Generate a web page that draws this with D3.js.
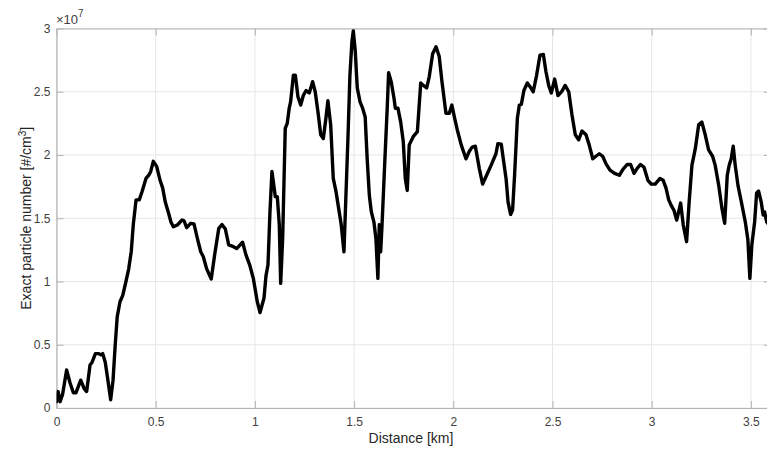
<!DOCTYPE html>
<html>
<head>
<meta charset="utf-8">
<script src="https://cdn.jsdelivr.net/npm/d3@7"></script>
<style>
html,body{margin:0;padding:0;background:#fff;}
svg{display:block;font-family:"Liberation Sans",Arial,Helvetica,sans-serif;}
</style>
</head>
<body>
<svg id="chart" width="767" height="452"></svg>
<script>
// Distance along route [km]
const distanceKm = [
0.000,0.008,0.018,0.031,0.051,0.068,0.085,0.098,0.122,0.139,0.152,0.169,0.179,0.196,0.213,0.223,0.233,0.246,0.260,0.273,
0.285,0.296,0.306,0.320,0.334,0.350,0.364,0.377,0.387,0.401,0.417,0.431,0.451,0.465,0.475,0.488,0.505,0.522,0.535,0.548,
0.565,0.577,0.589,0.609,0.633,0.643,0.656,0.676,0.693,0.710,0.727,0.740,0.757,0.780,0.797,0.818,0.834,0.851,0.868,0.885,
0.908,0.938,0.955,0.975,0.992,1.012,1.026,1.046,1.056,1.066,1.076,1.086,1.103,1.113,1.123,1.130,1.140,1.153,1.163,1.173,
1.180,1.194,1.204,1.217,1.231,1.244,1.258,1.274,1.291,1.304,1.318,1.332,1.345,1.358,1.368,1.382,1.395,1.409,1.422,1.435,
1.449,1.456,1.469,1.479,1.489,1.496,1.506,1.516,1.530,1.543,1.556,1.566,1.577,1.587,1.600,1.610,1.620,1.627,1.634,1.641,
1.654,1.667,1.674,1.687,1.701,1.708,1.721,1.735,1.748,1.758,1.768,1.778,1.798,1.819,1.836,1.849,1.866,1.879,1.896,1.913,
1.929,1.943,1.963,1.980,1.993,2.007,2.020,2.040,2.064,2.081,2.094,2.111,2.131,2.148,2.168,2.191,2.215,2.225,2.242,2.252,
2.266,2.276,2.289,2.299,2.309,2.323,2.333,2.343,2.356,2.373,2.387,2.403,2.420,2.437,2.454,2.467,2.481,2.494,2.511,2.528,
2.548,2.564,2.582,2.598,2.615,2.632,2.649,2.669,2.685,2.703,2.719,2.736,2.753,2.770,2.790,2.813,2.837,2.857,2.877,2.894,
2.911,2.927,2.944,2.961,2.981,2.998,3.018,3.042,3.058,3.072,3.086,3.099,3.112,3.126,3.136,3.146,3.159,3.176,3.189,3.203,
3.220,3.237,3.253,3.270,3.287,3.307,3.320,3.338,3.354,3.368,3.381,3.391,3.401,3.411,3.421,3.435,3.452,3.472,3.485,3.495,
3.505,3.519,3.529,3.539,3.552,3.562,3.569,3.580,3.590
];
// Exact particle number, in units of 1e7 #/cm^3
const particleE7 = [
0.05,0.13,0.05,0.11,0.30,0.20,0.12,0.12,0.22,0.155,0.13,0.34,0.36,0.43,0.43,0.42,0.43,0.36,0.21,0.065,
0.22,0.50,0.72,0.84,0.89,1.00,1.10,1.24,1.45,1.645,1.645,1.71,1.815,1.84,1.87,1.95,1.91,1.80,1.74,1.63,
1.54,1.47,1.433,1.447,1.486,1.48,1.425,1.46,1.455,1.34,1.235,1.196,1.10,1.02,1.21,1.42,1.45,1.415,1.29,1.28,
1.26,1.31,1.21,1.125,1.025,0.84,0.755,0.87,1.046,1.13,1.55,1.87,1.67,1.67,1.45,0.985,1.34,2.21,2.25,2.37,
2.42,2.63,2.63,2.46,2.395,2.47,2.51,2.49,2.58,2.50,2.34,2.16,2.13,2.29,2.43,2.24,1.815,1.71,1.58,1.45,
1.235,1.55,2.13,2.63,2.895,2.98,2.82,2.53,2.42,2.37,2.30,1.97,1.68,1.55,1.47,1.34,1.025,1.45,1.235,1.45,
1.92,2.37,2.65,2.58,2.45,2.37,2.37,2.26,2.105,1.815,1.72,2.08,2.145,2.185,2.57,2.55,2.53,2.62,2.80,2.855,
2.78,2.58,2.33,2.33,2.395,2.29,2.20,2.08,1.97,2.03,2.06,2.07,1.895,1.77,1.84,1.92,2.01,2.09,2.085,1.97,
1.815,1.63,1.53,1.565,1.84,2.29,2.395,2.40,2.51,2.57,2.54,2.50,2.63,2.79,2.795,2.66,2.55,2.49,2.60,2.47,
2.505,2.55,2.50,2.32,2.16,2.12,2.19,2.16,2.08,1.97,1.99,2.01,1.99,1.93,1.88,1.855,1.84,1.89,1.925,1.925,
1.855,1.895,1.925,1.905,1.80,1.77,1.77,1.815,1.80,1.74,1.645,1.60,1.565,1.486,1.55,1.62,1.45,1.315,1.63,1.92,
2.05,2.24,2.26,2.16,2.04,1.99,1.92,1.76,1.58,1.46,1.84,1.92,1.97,2.07,1.92,1.76,1.63,1.47,1.33,1.025,
1.29,1.47,1.70,1.715,1.63,1.525,1.55,1.47,1.45
];
const xTicks = [0, 0.5, 1, 1.5, 2, 2.5, 3, 3.5];
const yTicks = [0, 0.5, 1, 1.5, 2, 2.5, 3];
const xLabel = "Distance [km]";
const yLabelMain = "Exact particle number [#/cm";
const exponentLabel = "7";

const svg = d3.select("#chart");
const pLeft = 56.5, pRight = 770.7, pTop = 28.5, pBottom = 408;
const x = d3.scaleLinear().domain([0, 3.6]).range([pLeft, pRight]);
const y = d3.scaleLinear().domain([0, 3]).range([pBottom, pTop]);

const gridColor = "#e6e6e6", axisColor = "#b4b4b4", textColor = "#404040";

// grid
svg.append("g").selectAll("line").data(xTicks).join("line")
  .attr("x1", d => x(d)).attr("x2", d => x(d)).attr("y1", pTop).attr("y2", pBottom)
  .attr("stroke", gridColor).attr("stroke-width", 1);
svg.append("g").selectAll("line").data(yTicks).join("line")
  .attr("y1", d => y(d)).attr("y2", d => y(d)).attr("x1", pLeft).attr("x2", pRight)
  .attr("stroke", gridColor).attr("stroke-width", 1);

// axes
const tickLen = 7;
function styleAxis(g) {
  g.select(".domain").attr("stroke", axisColor).attr("stroke-width", 1.2);
  g.selectAll(".tick line").attr("stroke", axisColor).attr("stroke-width", 1);
  g.selectAll(".tick text").attr("fill", textColor).attr("font-size", "12px")
    .attr("font-family", "Liberation Sans, Arial, sans-serif");
}
const fmt = d => d3.format("")(d);
svg.append("g").attr("transform", `translate(0,${pBottom})`)
  .call(d3.axisBottom(x).tickValues(xTicks).tickFormat(fmt).tickSizeInner(-tickLen).tickSizeOuter(0).tickPadding(9))
  .call(styleAxis);
svg.append("g").attr("transform", `translate(0,${pTop})`)
  .call(d3.axisTop(x).tickValues(xTicks).tickFormat("").tickSizeInner(-tickLen).tickSizeOuter(0))
  .call(styleAxis);
svg.append("g").attr("transform", `translate(${pLeft},0)`)
  .call(d3.axisLeft(y).tickValues(yTicks).tickFormat(fmt).tickSizeInner(-tickLen).tickSizeOuter(0).tickPadding(6))
  .call(styleAxis);
svg.append("g").attr("transform", `translate(${pRight},0)`)
  .call(d3.axisRight(y).tickValues(yTicks).tickFormat("").tickSizeInner(-tickLen).tickSizeOuter(0))
  .call(styleAxis);

// clip
svg.append("clipPath").attr("id", "plotclip").append("rect")
  .attr("x", pLeft).attr("y", pTop).attr("width", pRight - pLeft).attr("height", pBottom - pTop);

const line = d3.line().x((d, i) => x(distanceKm[i])).y(d => y(d));
svg.append("path").datum(particleE7)
  .attr("clip-path", "url(#plotclip)")
  .attr("d", line).attr("fill", "none").attr("stroke", "#000")
  .attr("stroke-width", 3.4).attr("stroke-linejoin", "round").attr("stroke-linecap", "round");

// labels
svg.append("text").attr("x", 411).attr("y", 443)
  .attr("text-anchor", "middle").attr("font-size", "14px").attr("fill", "#262626").text(xLabel);

const yl = svg.append("text").attr("transform", `translate(31,${(pTop + pBottom) / 2}) rotate(-90)`)
  .attr("text-anchor", "middle").attr("font-size", "14px").attr("fill", "#262626");
yl.append("tspan").text(yLabelMain);
yl.append("tspan").attr("dy", -5).attr("font-size", "10px").text("3");
yl.append("tspan").attr("dy", 5).text("]");

const ex = svg.append("text").attr("x", 56).attr("y", 24).attr("font-size", "13px").attr("fill", textColor);
ex.append("tspan").text("\u00d710");
ex.append("tspan").attr("dy", -7).attr("font-size", "10px").text(exponentLabel);
</script>
</body>
</html>
